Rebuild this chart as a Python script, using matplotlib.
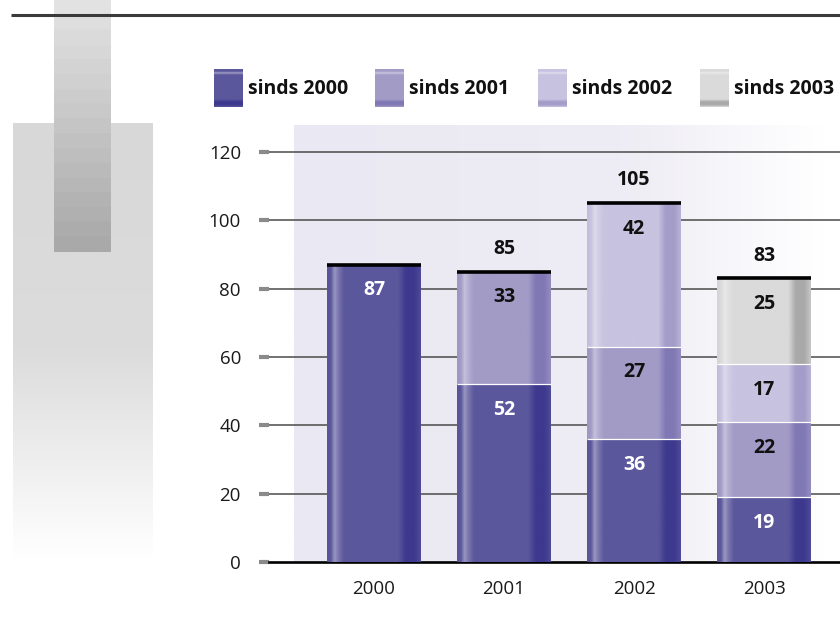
import numpy as np
import matplotlib
matplotlib.use("Agg")
import matplotlib.pyplot as plt
from matplotlib.colors import to_rgb

# ---- data ----
years = ["2000", "2001", "2002", "2003"]
series_names = ["sinds 2000", "sinds 2001", "sinds 2002", "sinds 2003"]
sinds_2000 = [87, 52, 36, 19]
sinds_2001 = [0, 33, 27, 22]
sinds_2002 = [0, 0, 42, 17]
sinds_2003 = [0, 0, 0, 25]
yticks = [0, 20, 40, 60, 80, 100, 120]

series = [sinds_2000, sinds_2001, sinds_2002, sinds_2003]
colors = ["#5b579c", "#a29bc6", "#c7c3e0", "#dadada"]
dark_colors = ["#3d398e", "#8078b4", "#a49cc9", "#a9a9a9"]
label_colors = ["white", "#111111", "#111111", "#111111"]

FONT = ["Open Sans", "DejaVu Sans"]
plt.rcParams["font.family"] = FONT

W, H = 840, 619
fig = plt.figure(figsize=(W / 100, H / 100), dpi=100)

# ---- decorative background, in pixel coordinates ----
bg = fig.add_axes([0, 0, 1, 1], zorder=0)
bg.set_xlim(0, W)
bg.set_ylim(H, 0)
bg.axis("off")


def vgrad(x0, x1, y0, y1, stops, steps=None):
    ys = np.linspace(0, 1, 256)
    pos = [s[0] for s in stops]
    cols = np.array([to_rgb(s[1]) for s in stops])
    if steps:
        ys = np.floor(ys * steps) / (steps - 1)
    img = np.stack([np.interp(ys, pos, cols[:, k]) for k in range(3)], axis=-1)
    bg.imshow(img[:, None, :], extent=(x0, x1, y1, y0), aspect="auto",
              interpolation="bilinear", zorder=1)


def hgrad(x0, x1, y0, y1, stops):
    xs = np.linspace(0, 1, 256)
    pos = [s[0] for s in stops]
    cols = np.array([to_rgb(s[1]) for s in stops])
    img = np.stack([np.interp(xs, pos, cols[:, k]) for k in range(3)], axis=-1)
    bg.imshow(img[None, :, :], extent=(x0, x1, y1, y0), aspect="auto",
              interpolation="bilinear", zorder=1)


# grey block on the left fading to white
vgrad(13, 153, 123, 560, [(0, "#d8d8d8"), (0.52, "#dcdcdc"), (1, "#ffffff")])
# vertical strip, stepped from light to dark
vgrad(54, 111, 0, 252, [(0, "#e2e2e2"), (1, "#a9a9a9")], steps=17)
# top rule
bg.plot([11, 840], [15, 15], color="#3a3a3a", lw=2.2, solid_capstyle="butt", zorder=3)
# plot area background
hgrad(294, 840, 125, 562, [(0, "#eae8f2"), (0.6, "#eeecf4"), (0.97, "#ffffff"), (1, "#ffffff")])

# ---- main axes ----
ax_left, ax_right = 269, 840
ax_top, ax_bot = 125, 562
ax = fig.add_axes([ax_left / W, (H - ax_bot) / H, (ax_right - ax_left) / W, (ax_bot - ax_top) / H],
                  zorder=2)
ax.patch.set_visible(False)
px_per_unit = (562 - 152) / 120.0
ymax = (ax_bot - ax_top) / px_per_unit

x = np.arange(len(years))
centers_px = [374, 506, 637, 764]
spacing = 130.0
x0_data = -(centers_px[0] - ax_left) / spacing
xlim = (x0_data, x0_data + (ax_right - ax_left) / spacing)
bar_w = 94 / spacing

for s in ["top", "right", "left"]:
    ax.spines[s].set_visible(False)
ax.spines["bottom"].set_color("black")
ax.spines["bottom"].set_linewidth(1.9)

ax.set_yticks(yticks)
ax.set_yticklabels([str(v) for v in yticks])
ax.tick_params(axis="y", direction="out", length=7.2, width=3.0, color="#8a8a8a",
               pad=13, labelsize=13.5, labelcolor="#1a1a1a")
ax.set_xticks(x)
ax.set_xticklabels(years)
ax.tick_params(axis="x", length=0, pad=13, labelsize=13.5, labelcolor="#1a1a1a")

for v in yticks[1:]:
    ax.axhline(v, color="#4a4a4a", lw=1.1, zorder=1)


def shade_row(color, dark_color):
    base = np.array(to_rgb(color))
    dark = np.array(to_rgb(dark_color))
    light = base + (1 - base) * 0.38
    t = np.linspace(0, 1, 240)
    pts = [0.0, 0.04, 0.08, 0.12, 0.18, 0.76, 0.84, 0.93, 1.0]
    cols = np.array([base * 0.97, base, light, light * 0.5 + base * 0.5, base, base,
                     dark, dark, dark * 0.4 + base * 0.6])
    row = np.stack([np.interp(t, pts, cols[:, k]) for k in range(3)], axis=-1)
    return np.clip(row, 0, 1)[None, :, :]


bottoms = np.zeros(len(years))
for si, vals in enumerate(series):
    img = shade_row(colors[si], dark_colors[si])
    for i, v in enumerate(vals):
        if v <= 0:
            continue
        b = bottoms[i]
        ax.imshow(img, extent=(x[i] - bar_w / 2, x[i] + bar_w / 2, b, b + v),
                  aspect="auto", interpolation="bilinear", zorder=3)
        if b > 0:
            ax.plot([x[i] - bar_w / 2, x[i] + bar_w / 2], [b, b], color="white",
                    lw=0.9, zorder=4, solid_capstyle="butt")
        ax.annotate(str(v), (x[i], b + v), xytext=(0, -18.5), textcoords="offset points",
                    ha="center", va="center", fontsize=14, fontweight="bold",
                    color=label_colors[si], zorder=5)
    bottoms += np.array(vals)

n_parts = [sum(1 for s in series if s[i] > 0) for i in range(len(years))]
for i, tot in enumerate(bottoms):
    ax.plot([x[i] - bar_w / 2, x[i] + bar_w / 2], [tot, tot], color="black",
            lw=2.6, zorder=5, solid_capstyle="butt")
    if n_parts[i] > 1:
        ax.annotate(str(int(tot)), (x[i], tot), xytext=(0, 16.5), textcoords="offset points",
                    ha="center", va="center", fontsize=14, fontweight="bold",
                    color="#111111", zorder=5)
ax.set_xlim(*xlim)
ax.set_ylim(0, ymax)

# ---- legend ----
leg_x = [214, 375, 538, 700]
for si, name in enumerate(series_names):
    base = np.array(to_rgb(colors[si]))
    light = base + (1 - base) * 0.45
    dark = np.array(to_rgb(dark_colors[si]))
    vgrad(leg_x[si], leg_x[si] + 29, 69, 107,
          [(0, base), (0.06, base), (0.1, light), (0.15, base), (0.8, base),
           (0.86, dark), (0.94, dark), (1, base)])
    bg.text(leg_x[si] + 34, 89, name, fontsize=14, fontweight="bold",
            ha="left", va="center", color="#111111", zorder=3)

fig.savefig("out.png", dpi=100)
